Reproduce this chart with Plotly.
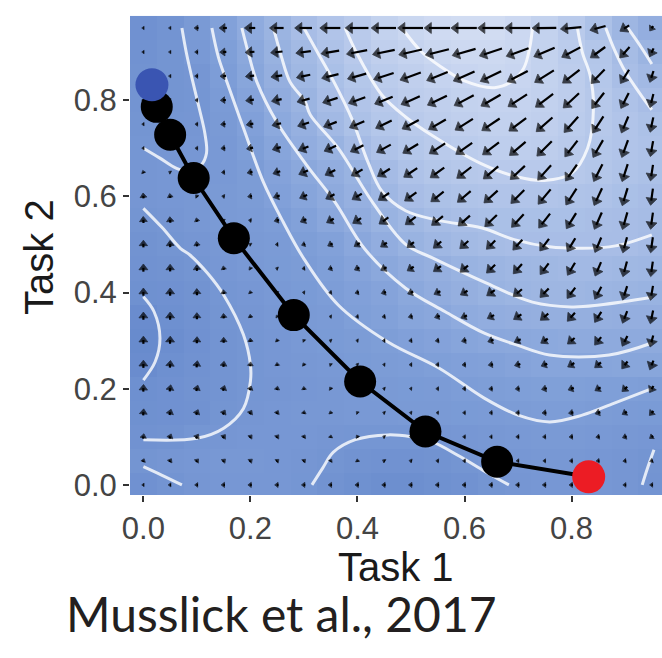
import numpy as np
import plotly.graph_objects as go

# ---------------- data ----------------
grid_x = [0.0, 0.05, 0.1, 0.15, 0.2, 0.25, 0.3, 0.35, 0.4, 0.45,
          0.5, 0.55, 0.6, 0.65, 0.7, 0.75, 0.8, 0.85, 0.9, 0.95]
# rows listed from the top (y = 0.95) to the bottom (y = 0.0)
rows_y = [0.95, 0.9, 0.85, 0.8, 0.75, 0.7, 0.65, 0.6, 0.55, 0.5,
          0.45, 0.4, 0.35, 0.3, 0.25, 0.2, 0.15, 0.1, 0.05, 0.0]

# background surface (relative brightness), rows top -> bottom
surface = [
 [0.25,0.28,0.35,0.44,0.53,0.61,0.70,0.76,0.81,0.87,0.91,0.94,0.95,0.95,0.92,0.87,0.81,0.73,0.63,0.56],
 [0.26,0.29,0.34,0.41,0.50,0.59,0.67,0.74,0.80,0.85,0.88,0.91,0.93,0.93,0.91,0.87,0.82,0.77,0.69,0.61],
 [0.27,0.29,0.31,0.39,0.48,0.57,0.65,0.72,0.78,0.82,0.85,0.88,0.90,0.91,0.90,0.87,0.83,0.78,0.71,0.66],
 [0.28,0.29,0.30,0.37,0.46,0.54,0.61,0.70,0.76,0.80,0.83,0.85,0.87,0.88,0.88,0.86,0.83,0.79,0.74,0.70],
 [0.29,0.30,0.31,0.35,0.43,0.51,0.58,0.66,0.73,0.78,0.81,0.83,0.85,0.86,0.86,0.85,0.82,0.79,0.76,0.73],
 [0.30,0.31,0.32,0.34,0.40,0.47,0.55,0.60,0.68,0.74,0.78,0.81,0.82,0.84,0.84,0.83,0.81,0.78,0.76,0.74],
 [0.31,0.32,0.31,0.34,0.38,0.45,0.50,0.55,0.60,0.68,0.74,0.77,0.79,0.80,0.80,0.80,0.79,0.77,0.75,0.73],
 [0.31,0.32,0.33,0.35,0.38,0.43,0.47,0.52,0.58,0.64,0.70,0.73,0.75,0.76,0.76,0.76,0.75,0.74,0.72,0.70],
 [0.29,0.31,0.33,0.35,0.37,0.39,0.44,0.49,0.54,0.60,0.65,0.69,0.71,0.72,0.72,0.72,0.72,0.71,0.70,0.69],
 [0.27,0.29,0.31,0.33,0.35,0.37,0.40,0.44,0.49,0.55,0.60,0.64,0.67,0.69,0.70,0.70,0.70,0.70,0.70,0.68],
 [0.26,0.27,0.29,0.32,0.34,0.36,0.38,0.41,0.46,0.50,0.54,0.57,0.60,0.62,0.64,0.65,0.66,0.66,0.65,0.64],
 [0.24,0.25,0.27,0.30,0.32,0.34,0.36,0.39,0.43,0.46,0.50,0.54,0.57,0.60,0.62,0.63,0.63,0.62,0.61,0.60],
 [0.19,0.23,0.26,0.29,0.31,0.33,0.35,0.37,0.41,0.44,0.47,0.49,0.53,0.55,0.56,0.57,0.57,0.57,0.56,0.56],
 [0.17,0.21,0.25,0.28,0.30,0.32,0.34,0.36,0.38,0.40,0.43,0.45,0.47,0.49,0.50,0.51,0.52,0.52,0.52,0.52],
 [0.19,0.23,0.26,0.28,0.30,0.32,0.33,0.34,0.36,0.38,0.39,0.41,0.43,0.44,0.46,0.47,0.47,0.47,0.48,0.48],
 [0.23,0.25,0.27,0.28,0.30,0.31,0.32,0.33,0.34,0.35,0.36,0.37,0.39,0.40,0.41,0.42,0.42,0.41,0.41,0.40],
 [0.24,0.25,0.26,0.29,0.31,0.32,0.33,0.33,0.34,0.34,0.35,0.35,0.36,0.37,0.38,0.39,0.39,0.38,0.37,0.36],
 [0.26,0.27,0.30,0.31,0.32,0.32,0.32,0.31,0.30,0.30,0.30,0.31,0.32,0.33,0.34,0.35,0.35,0.34,0.33,0.32],
 [0.29,0.31,0.32,0.33,0.33,0.32,0.31,0.29,0.27,0.26,0.26,0.27,0.29,0.31,0.32,0.33,0.33,0.32,0.31,0.29],
 [0.25,0.28,0.31,0.32,0.32,0.32,0.30,0.27,0.24,0.22,0.22,0.24,0.26,0.29,0.31,0.32,0.32,0.32,0.31,0.28],
]

# arrow length (thousandths of an x unit), rows top -> bottom
arrow_len = [
 [2,2,6,12,18,24,30,36,41,44,45,46,46,46,45,43,37,28,18,9],
 [2,2,4,10,15,20,26,32,37,40,42,43,43,42,42,40,37,32,25,15],
 [2,2,4,9,14,19,24,30,34,37,39,40,41,41,41,40,38,34,28,20],
 [2,2,3,8,13,17,22,27,31,34,36,38,39,40,40,39,38,35,30,24],
 [2,2,3,7,11,15,20,24,28,31,33,35,37,38,38,38,37,35,31,26],
 [2,2,3,6,10,14,18,22,25,28,31,33,35,36,37,37,36,35,32,27],
 [3,2,2,4,8,12,16,19,22,25,28,30,32,34,35,35,35,34,32,28],
 [8,6,3,3,6,10,13,16,19,22,25,28,30,32,33,34,34,33,32,29],
 [10,9,5,2,3,7,10,13,16,19,22,25,27,29,31,32,32,32,31,29],
 [11,10,7,3,2,3,5,8,10,12,14,17,19,21,24,26,27,28,28,27],
 [12,11,9,5,3,2,3,6,8,10,12,15,17,20,22,24,25,26,27,26],
 [12,12,10,6,3,2,2,3,5,7,9,11,13,16,19,21,23,24,25,25],
 [12,12,10,7,4,2,2,2,3,4,6,8,10,12,15,17,19,21,22,23],
 [12,12,10,8,5,3,2,2,2,3,4,5,7,9,11,13,15,17,19,20],
 [12,11,10,8,6,4,3,2,2,2,3,4,5,7,9,10,12,13,15,16],
 [11,10,9,8,6,5,4,3,2,2,2,3,4,5,6,8,9,10,11,12],
 [10,9,8,7,6,5,4,3,2,2,2,2,3,4,5,6,7,8,8,9],
 [7,7,7,6,5,5,4,3,3,2,2,2,3,3,4,4,5,5,6,6],
 [4,5,5,5,5,4,4,3,3,3,3,3,3,3,3,3,4,4,4,4],
 [2,3,4,5,5,5,5,5,5,5,5,5,5,5,5,5,5,5,4,4],
]

# arrow direction on screen (degrees, counter-clockwise from +x), rows top -> bottom
arrow_dir = [
 [180,180,180,180,180,180,180,180,180,180,180,180,180,180,180,181,185,195,212,235],
 [180,180,180,182,184,186,188,190,191,192,193,194,196,198,200,203,208,216,228,245],
 [180,180,180,183,186,189,192,194,196,198,200,202,204,206,208,212,218,226,238,252],
 [180,180,180,184,188,192,195,198,200,202,204,206,208,210,213,217,223,232,243,256],
 [180,180,180,185,190,194,198,201,204,206,208,210,212,214,217,221,228,237,247,258],
 [180,180,180,186,192,197,201,204,207,209,211,213,215,217,220,225,232,240,250,260],
 [110,150,170,185,193,199,203,207,210,212,214,216,218,220,223,228,235,243,252,261],
 [95,100,130,170,190,198,204,208,211,214,216,218,220,222,225,230,237,245,253,262],
 [92,95,105,140,175,195,204,209,212,215,217,219,221,224,227,232,238,246,254,262],
 [90,92,97,115,150,185,200,207,212,215,218,220,222,225,228,233,239,247,255,262],
 [90,90,93,100,120,160,190,200,205,208,212,216,220,224,228,233,239,247,255,262],
 [90,90,92,96,105,140,175,190,195,198,202,206,210,215,220,226,233,242,252,260],
 [90,90,91,94,100,120,150,175,185,190,194,198,202,207,213,220,228,238,249,258],
 [90,88,88,90,95,110,135,160,175,182,186,190,194,199,205,212,220,231,243,255],
 [90,85,82,82,85,95,115,140,160,175,180,183,186,190,195,202,210,220,232,248],
 [88,80,75,72,72,80,95,120,145,165,175,180,182,184,188,193,200,210,222,240],
 [85,75,68,62,60,65,80,105,135,160,172,178,180,181,183,186,190,198,210,228],
 [80,70,60,52,50,52,60,80,120,155,170,176,178,180,180,182,185,190,200,215],
 [70,60,50,45,42,40,45,60,100,150,168,175,178,180,180,180,181,183,188,200],
 [180,180,180,180,180,180,180,180,180,180,180,180,180,180,180,180,180,180,180,180],
]

# white iso-lines of the surface (x, y pairs)
iso_lines = {
 "A": ([0.072,0.080,0.092,0.105,0.115,0.118,0.108,0.085,0.062,0.030,0.0],
       [0.95,0.90,0.84,0.78,0.73,0.69,0.665,0.652,0.658,0.68,0.70]),
 "B": ([0.128,0.140,0.156,0.187,0.224,0.261,0.300,0.364,0.457,0.552,0.636,0.700,0.759,0.820,0.880,0.95],
       [0.95,0.89,0.838,0.742,0.63,0.547,0.47,0.374,0.297,0.243,0.181,0.145,0.131,0.145,0.17,0.20]),
 "C": ([0.184,0.198,0.212,0.249,0.305,0.358,0.414,0.490,0.564,0.636,0.700,0.759,0.870,0.95],
       [0.95,0.89,0.838,0.755,0.665,0.588,0.49,0.409,0.36,0.316,0.29,0.27,0.27,0.295]),
 "D": ([0.243,0.258,0.274,0.302,0.312,0.364,0.428,0.490,0.540,0.638,0.727,0.800,0.852,0.95],
       [0.95,0.89,0.838,0.797,0.769,0.70,0.588,0.50,0.472,0.421,0.38,0.37,0.374,0.39]),
 "E": ([0.300,0.325,0.355,0.390,0.420,0.446,0.490,0.551,0.633,0.693,0.759,0.820,0.882,0.95],
       [0.95,0.90,0.84,0.76,0.67,0.61,0.57,0.55,0.534,0.51,0.495,0.492,0.497,0.52]),
 "F": ([0.377,0.400,0.446,0.490,0.539,0.631,0.700,0.749,0.800,0.830,0.841,0.835,0.820,0.811],
       [0.95,0.895,0.81,0.765,0.727,0.668,0.64,0.633,0.648,0.70,0.784,0.85,0.90,0.95]),
 "U": ([0.483,0.520,0.555,0.600,0.656,0.690,0.711,0.722,0.727],
       [0.95,0.90,0.87,0.84,0.826,0.84,0.867,0.91,0.95]),
 "R": ([0.864,0.880,0.900,0.930,0.95], [0.95,0.905,0.86,0.81,0.78]),
 "K": ([0.905,0.930,0.95], [0.95,0.91,0.875]),
 "G": ([0.0,0.035,0.069,0.087,0.120,0.150,0.187,0.200,0.200,0.187,0.150,0.100,0.0],
       [0.575,0.535,0.492,0.478,0.44,0.395,0.312,0.25,0.215,0.159,0.118,0.097,0.094]),
 "H": ([0.0,0.020,0.031,0.022,0.0], [0.391,0.36,0.305,0.256,0.218]),
 "L": ([0.0,0.035,0.072], [0.038,0.02,0.0]),
 "M": ([0.315,0.335,0.355,0.396,0.457,0.500,0.539,0.590,0.638,0.683],
       [0.0,0.035,0.068,0.094,0.104,0.10,0.09,0.06,0.028,0.0]),
 "N": ([0.954,0.942,0.932], [0.073,0.035,0.0]),
}

# learning trajectory
traj_x = [0.016, 0.025, 0.050, 0.094, 0.169, 0.281, 0.405, 0.527, 0.661, 0.832]
traj_y = [0.832, 0.786, 0.728, 0.638, 0.513, 0.353, 0.215, 0.111, 0.048, 0.017]

x_ticks = [0.0, 0.2, 0.4, 0.6, 0.8]
x_ticklabels = ["0.0", "0.2", "0.4", "0.6", "0.8"]
y_ticks = [0.0, 0.2, 0.4, 0.6, 0.8]
y_ticklabels = ["0.0", "0.2", "0.4", "0.6", "0.8"]

# ---------------- layout constants ----------------
W, H = 662, 658
ML, MR, MT, MB = 130, 0, 15, 163
XR = [-0.025, 0.969]
YR = [-0.021, 0.977]
SX = (W - ML - MR) / (XR[1] - XR[0])   # px per x unit
SY = (H - MT - MB) / (YR[1] - YR[0])   # px per y unit

fig = go.Figure()

fig.add_trace(go.Heatmap(
    x=grid_x, y=rows_y, z=surface, zmin=0.15, zmax=0.97,
    colorscale=[[0.0, "#6689cc"], [0.35, "#82a1d9"], [0.7, "#abc0e7"], [1.0, "#d4def3"]],
    showscale=False, hoverinfo="skip"))

for name, (lx, ly) in iso_lines.items():
    fig.add_trace(go.Scatter(x=lx, y=ly, mode="lines", line_shape="spline",
                             line=dict(color="rgba(255,255,255,0.8)", width=3),
                             showlegend=False, hoverinfo="skip"))

# quiver arrows
sx, sy, hx, hy, ha, hs = [], [], [], [], [], []
for r, yv in enumerate(rows_y):
    for c, xv in enumerate(grid_x):
        L = arrow_len[r][c] / 1000.0
        th = np.radians(arrow_dir[r][c])
        lpx = L * SX
        u = lpx * np.cos(th) / SX
        v = lpx * np.sin(th) / SY
        tx, ty = xv - u / 2, yv - v / 2
        px_, py_ = xv + u / 2, yv + v / 2
        back = min(3.5, lpx * 0.4)
        mx = px_ - np.cos(th) * back / SX
        my = py_ - np.sin(th) * back / SY
        sx += [tx, mx, None]
        sy += [ty, my, None]
        hx.append(mx); hy.append(my)
        ha.append(90 - arrow_dir[r][c])
        hs.append(float(min(9.5, 2.2 + lpx * 0.85)))

fig.add_trace(go.Scatter(x=sx, y=sy, mode="lines",
                         line=dict(color="black", width=2.2),
                         showlegend=False, hoverinfo="skip"))
fig.add_trace(go.Scatter(x=hx, y=hy, mode="markers",
                         marker=dict(symbol="triangle-up", size=hs, angle=ha,
                                     color="black", line=dict(width=0.8, color="black")),
                         showlegend=False, hoverinfo="skip"))

# trajectory
fig.add_trace(go.Scatter(x=traj_x, y=traj_y, mode="lines",
                         line=dict(color="black", width=4),
                         showlegend=False, hoverinfo="skip"))
fig.add_trace(go.Scatter(x=traj_x[1:-1], y=traj_y[1:-1], mode="markers",
                         marker=dict(color="black", size=32, line=dict(width=0)),
                         showlegend=False, hoverinfo="skip"))
fig.add_trace(go.Scatter(x=traj_x[:1], y=traj_y[:1], mode="markers",
                         marker=dict(color="#3a55b2", size=33, line=dict(width=0)),
                         showlegend=False, hoverinfo="skip"))
fig.add_trace(go.Scatter(x=traj_x[-1:], y=traj_y[-1:], mode="markers",
                         marker=dict(color="#ec1c24", size=33, line=dict(width=0)),
                         showlegend=False, hoverinfo="skip"))

axis_common = dict(showgrid=False, zeroline=False, showline=False,
                   ticks="outside", ticklen=6, tickwidth=1.5, tickcolor="#333333",
                   tickfont=dict(family="Liberation Sans, Arial, sans-serif",
                                 size=31, color="#444444"))
fig.update_xaxes(range=XR, tickvals=x_ticks, ticktext=x_ticklabels, **axis_common)
fig.update_yaxes(range=YR, tickvals=y_ticks, ticktext=y_ticklabels, **axis_common)

fig.update_layout(
    width=W, height=H,
    margin=dict(l=ML, r=MR, t=MT, b=MB, pad=0),
    paper_bgcolor="white", plot_bgcolor="white",
    showlegend=False,
    annotations=[
        dict(text="Task 1", xref="paper", yref="paper", x=0.5, y=-0.15,
             xanchor="center", yanchor="middle", showarrow=False,
             font=dict(family="Liberation Sans, Arial, sans-serif", size=40, color="#1a1a1a")),
        dict(text="Task 2", xref="paper", yref="paper", x=-0.171, y=0.496,
             xanchor="center", yanchor="middle", showarrow=False, textangle=-90,
             font=dict(family="Liberation Sans, Arial, sans-serif", size=40, color="#1a1a1a")),
        dict(text="Musslick et al., 2017", xref="paper", yref="paper", x=0.2857, y=-0.247,
             xanchor="center", yanchor="middle", showarrow=False,
             font=dict(family="Lato, Liberation Sans, sans-serif", size=48, color="#231f20")),
    ],
)

fig.write_html("out.html")
